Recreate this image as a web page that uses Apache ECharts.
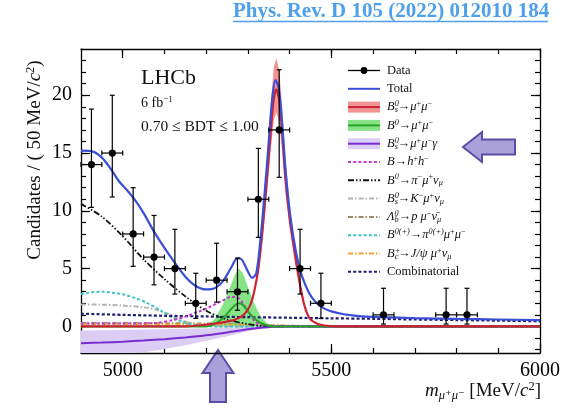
<!DOCTYPE html>
<html><head><meta charset="utf-8">
<script src="https://cdn.jsdelivr.net/npm/echarts@6/dist/echarts.min.js"></script>
<style>html,body{margin:0;padding:0;background:#fff}#c{width:571px;height:410px}</style>
</head><body><div id="c"></div>
<script>
// ---------------- data ----------------
const xMin = 4900, xMax = 6000, yMin = -2.3, yMax = 24;
const xMajorTicks = [5000, 5500, 6000];
const xMinorTicks = [5000, 5100, 5200, 5300, 5400, 5500, 5600, 5700, 5800, 5900];
const yMajorTicks = [0, 5, 10, 15, 20];
const yMinorTicks = [-2, -1, 0, 1, 2, 3, 4, 5, 6, 7, 8, 9, 10, 11, 12, 13, 14, 15, 16, 17, 18, 19, 20, 21, 22, 23];

const binHalfWidth = 25;
const dataX = [4925, 4975, 5025, 5075, 5125, 5175, 5225, 5275, 5325, 5375, 5425, 5475, 5625, 5775, 5825];
const dataY = [14, 15, 8, 6, 5, 2, 4, 3, 11, 17, 5, 2, 1, 1, 1];
const errLow = [3.7, 3.8, 2.8, 2.4, 2.2, 1.3, 1.9, 1.6, 3.3, 4.1, 2.2, 1.3, 0.8, 0.8, 0.8];
const errHigh = [4.8, 5.0, 4.0, 3.6, 3.4, 2.6, 3.2, 2.9, 4.4, 5.2, 3.4, 2.6, 2.3, 2.3, 2.3];

const total = [[4900,15.2],[4930,15.1],[4950,14.6],[4970,13.7],[4990,12.6],[5010,11.8],[5030,10.9],[5050,9.8],[5075,8.2],[5100,6.8],[5125,5.5],[5150,4.3],[5175,3.5],[5200,3.2],[5220,3.3],[5240,3.9],[5260,5.1],[5275,5.9],[5285,5.8],[5298,4.9],[5310,4.2],[5320,4.6],[5330,7.5],[5340,11.5],[5350,16.0],[5358,19.6],[5366,21.3],[5374,20.6],[5382,17.6],[5390,13.6],[5400,10.0],[5410,7.5],[5420,5.6],[5430,4.3],[5445,3.0],[5460,2.2],[5480,1.6],[5500,1.3],[5530,1.05],[5560,0.92],[5600,0.82],[5700,0.72],[5800,0.65],[5900,0.6],[6000,0.55]];
const bsMuMu = [[4900,0],[5150,0],[5200,0.15],[5240,0.35],[5270,0.6],[5290,1.0],[5305,1.8],[5315,3.0],[5325,5.0],[5335,8.3],[5345,12.5],[5355,17.0],[5362,19.7],[5368,20.5],[5375,19.6],[5382,16.8],[5390,12.8],[5400,9.4],[5410,6.9],[5418,5.0],[5426,3.4],[5434,2.0],[5442,1.1],[5450,0.6],[5465,0.25],[5480,0.1],[5500,0.03],[5550,0],[6000,0]];
const bsBandX = [5320, 5325, 5335, 5345, 5355, 5362, 5368, 5375, 5382, 5390, 5400, 5410, 5420, 5425];
const bsBandLo = [4.0, 4.5, 7.5, 11.3, 15.3, 17.8, 18.5, 17.7, 15.1, 11.5, 8.5, 6.2, 4.5, 3.6];
const bsBandHi = [4.0, 5.6, 9.5, 14.2, 19.3, 22.4, 23.2, 22.2, 19.0, 14.5, 10.6, 7.8, 5.6, 3.6];

const b0MuMu = [[4900,0],[5200,0],[5220,0.2],[5240,0.7],[5255,1.3],[5268,1.8],[5278,2.0],[5288,1.85],[5300,1.3],[5315,0.7],[5330,0.3],[5345,0.1],[5360,0],[6000,0]];
const b0BandX = [5200, 5220, 5240, 5255, 5268, 5278, 5288, 5300, 5315, 5330, 5345, 5360];
const b0BandLo = [0, 0, 0, 0, 0, 0, 0, 0, 0, 0, 0, 0];
const b0BandHi = [0.1, 0.6, 1.9, 3.2, 4.4, 5.0, 4.6, 3.4, 2.0, 0.9, 0.3, 0.05];

const bsMuMuGamma = [[4900,-1.45],[4950,-1.4],[5000,-1.32],[5050,-1.22],[5100,-1.1],[5150,-0.95],[5200,-0.77],[5250,-0.52],[5300,-0.25],[5330,-0.12],[5360,-0.03],[5400,0],[6000,0]];
const gamBandX = [4900, 4950, 5000, 5050, 5100, 5150, 5200, 5250, 5300, 5340, 5370, 5400];
const gamBandLo = [-2.8, -2.65, -2.5, -2.25, -1.95, -1.62, -1.25, -0.85, -0.42, -0.12, -0.02, 0];
const gamBandHi = [-0.35, -0.33, -0.3, -0.27, -0.24, -0.2, -0.15, -0.1, -0.05, -0.02, 0, 0];

const bhh = [[4900,0.25],[5000,0.25],[5080,0.3],[5120,0.55],[5150,0.85],[5180,1.25],[5210,1.7],[5240,2.25],[5260,2.55],[5275,2.5],[5290,1.9],[5305,1.0],[5320,0.35],[5340,0.1],[5360,0],[6000,0]];
const piMuNu = [[4900,10.6],[4950,9.5],[5000,7.8],[5050,5.8],[5100,4.1],[5150,2.6],[5200,1.35],[5250,0.6],[5300,0.2],[5330,0.05],[5350,0],[6000,0]];
const kMuNu = [[4900,1.9],[4950,1.88],[5000,1.8],[5050,1.65],[5080,1.45],[5110,1.05],[5140,0.55],[5170,0.2],[5200,0.05],[5250,0],[6000,0]];
const lambdaB = [[4900,0.3],[5000,0.3],[5100,0.28],[5200,0.25],[5300,0.15],[5400,0.05],[5500,0],[6000,0]];
const piMuMu = [[4900,2.8],[4925,2.95],[4950,3.0],[4975,2.92],[5000,2.78],[5030,2.45],[5060,2.0],[5090,1.4],[5120,0.75],[5150,0.3],[5180,0.1],[5220,0],[6000,0]];
const bcJpsi = [[4900,0.22],[5100,0.2],[5300,0.12],[5400,0.05],[5500,0],[6000,0]];
const combinatorial = [[4900,1.1],[5000,1.0],[5100,0.92],[5200,0.86],[5300,0.8],[5400,0.75],[5500,0.7],[5600,0.66],[5700,0.6],[5800,0.55],[5900,0.5],[6000,0.45]];

// ---------------- styling ----------------
const F = '"Liberation Serif", "DejaVu Serif", "Times New Roman", serif';
const C = {
  total: '#3a4fd6', red: '#cc2233', pink: '#f29494', green: '#27a327', lgreen: '#86e486',
  purple: '#7a2bd2', lpurple: '#dccdf5', magenta: '#c43ccc', black: '#111111', gray: '#b4b4b4',
  brown: '#9c8a68', cyan: '#3cc4c4', orange: '#f0a22e', navy: '#1c1c72'
};
const dashes = { dash: [3, 2.2], dd: [6, 2, 1.5, 2, 1.5, 2], dot: [5, 2, 1.5, 2] };

function lineS(data, color, width, type, z) {
  return { type: 'line', data, symbol: 'none', showSymbol: false, smooth: 0.3, clip: true,
    lineStyle: { color, width, type: type || 'solid' }, z: z || 3, silent: true, animation: false };
}
function bandS(xs, lo, hi, color, z) {
  return {
    type: 'custom', clip: true, z: z || 2, silent: true, animation: false,
    data: xs.map((x, i) => [x, lo[i], hi[i]]),
    renderItem: (params, api) => {
      if (params.dataIndex !== 0) return;
      const up = xs.map((x, i) => api.coord([x, Math.max(hi[i], yMin)]));
      const dn = xs.map((x, i) => api.coord([x, Math.max(lo[i], yMin)])).reverse();
      return { type: 'polygon', shape: { points: up.concat(dn) }, style: { fill: color } };
    }
  };
}
const plainNum = v => String(v);
function axisX(pos, ticks, len, showLine, labels) {
  return { type: 'value', min: xMin, max: xMax, position: pos, gridIndex: 0,
    axisLine: { show: showLine, onZero: false, lineStyle: { color: '#000', width: 1.3 } },
    axisTick: { show: true, inside: true, length: len, customValues: ticks, lineStyle: { color: '#000', width: 1.2 } },
    axisLabel: labels ? { show: true, customValues: ticks, formatter: plainNum, fontFamily: F, fontSize: 20, color: '#000', margin: 8 } : { show: false },
    splitLine: { show: false } };
}
function axisY(pos, ticks, len, showLine, labels) {
  return { type: 'value', min: yMin, max: yMax, position: pos, gridIndex: 0,
    axisLine: { show: showLine, onZero: false, lineStyle: { color: '#000', width: 1.3 } },
    axisTick: { show: true, inside: true, length: len, customValues: ticks, lineStyle: { color: '#000', width: 1.2 } },
    axisLabel: labels ? { show: true, customValues: ticks, formatter: plainNum, fontFamily: F, fontSize: 20, color: '#000', margin: 9 } : { show: false },
    splitLine: { show: false } };
}

const series = [
  bandS(gamBandX, gamBandLo, gamBandHi, C.lpurple, 1),
  bandS(b0BandX, b0BandLo, b0BandHi, C.lgreen, 1),
  bandS(bsBandX, bsBandLo, bsBandHi, C.pink, 1),
  lineS(lambdaB, C.brown, 2, dashes.dot),
  lineS(bcJpsi, C.orange, 2, dashes.dot),
  lineS(kMuNu, C.gray, 2, dashes.dot),
  lineS(piMuMu, C.cyan, 2, dashes.dash),
  lineS(combinatorial, C.navy, 2.2, dashes.dash),
  lineS(bhh, C.magenta, 2, dashes.dash),
  lineS(piMuNu, C.black, 1.8, dashes.dd),
  lineS(bsMuMuGamma, C.purple, 2, 'solid', 4),
  lineS(b0MuMu, C.green, 2, 'solid', 4),
  lineS(bsMuMu, C.red, 2.2, 'solid', 4),
  lineS(total, C.total, 2.2, 'solid', 5),
  {
    type: 'custom', z: 6, silent: true, animation: false,
    data: dataX.map((x, i) => [x, dataY[i], errLow[i], errHigh[i]]),
    renderItem: (params, api) => {
      const x = api.value(0), y = api.value(1), lo = api.value(2), hi = api.value(3);
      const c = api.coord([x, y]), t = api.coord([x, y + hi]), b = api.coord([x, y - lo]);
      const l = api.coord([x - binHalfWidth, y]), r = api.coord([x + binHalfWidth, y]);
      const st = { stroke: '#000', lineWidth: 1.2 };
      return { type: 'group', children: [
        { type: 'line', shape: { x1: c[0], y1: t[1], x2: c[0], y2: b[1] }, style: st },
        { type: 'line', shape: { x1: l[0], y1: c[1], x2: r[0], y2: c[1] }, style: st },
        { type: 'line', shape: { x1: c[0] - 2.5, y1: t[1], x2: c[0] + 2.5, y2: t[1] }, style: st },
        { type: 'line', shape: { x1: c[0] - 2.5, y1: b[1], x2: c[0] + 2.5, y2: b[1] }, style: st },
        { type: 'line', shape: { x1: l[0], y1: c[1] - 2.5, x2: l[0], y2: c[1] + 2.5 }, style: st },
        { type: 'line', shape: { x1: r[0], y1: c[1] - 2.5, x2: r[0], y2: c[1] + 2.5 }, style: st },
        { type: 'circle', shape: { cx: c[0], cy: c[1], r: 3.6 }, style: { fill: '#000' } }
      ] };
    }
  }
];

// ---------------- text / legend ----------------
function rich(size) {
  const s = size * 0.66, lh = Math.round(size * 1.15);
  const base = { fontFamily: F, fill: '#111' };
  return {
    r: { ...base, fontSize: size, lineHeight: lh },
    i: { ...base, fontSize: size, fontStyle: 'italic', lineHeight: lh },
    sup: { ...base, fontSize: s, lineHeight: s, verticalAlign: 'top' },
    isup: { ...base, fontSize: s, fontStyle: 'italic', lineHeight: s, verticalAlign: 'top' },
    isup0: { ...base, fontSize: s, fontStyle: 'italic', lineHeight: s, verticalAlign: 'top', width: 0 },
    sub: { ...base, fontSize: s, lineHeight: s, verticalAlign: 'bottom' },
    isub: { ...base, fontSize: s, fontStyle: 'italic', lineHeight: s, verticalAlign: 'bottom' }
  };
}
const legendItems = [
  { kind: 'data', label: '{r|Data}' },
  { kind: 'line', color: C.total, label: '{r|Total}' },
  { kind: 'band', color: C.red, fill: C.pink, label: '{i|B}{isup0|0}{isub|s}{r|→}{i|μ}{sup|+}{i|μ}{sup|−}' },
  { kind: 'band', color: C.green, fill: C.lgreen, label: '{i|B}{isup|0}{r|→}{i|μ}{sup|+}{i|μ}{sup|−}' },
  { kind: 'band', color: C.purple, fill: C.lpurple, label: '{i|B}{isup0|0}{isub|s}{r|→}{i|μ}{sup|+}{i|μ}{sup|−}{i|γ}' },
  { kind: 'line', color: C.magenta, dash: dashes.dash, label: '{i|B}{r|→}{i|h}{sup|+}{i|h}{sup|−}' },
  { kind: 'line', color: C.black, dash: dashes.dd, label: '{i|B}{isup|0}{r|→}{i|π}{sup|−}{i|μ}{sup|+}{i|ν}{isub|μ}' },
  { kind: 'line', color: C.gray, dash: dashes.dot, label: '{i|B}{isup0|0}{isub|s}{r|→}{i|K}{sup|−}{i|μ}{sup|+}{i|ν}{isub|μ}' },
  { kind: 'line', color: C.brown, dash: dashes.dot, label: '{i|Λ}{isup0|0}{isub|b}{r|→}{i|p μ}{sup|−}{i|ν̄}{isub|μ}' },
  { kind: 'line', color: C.cyan, dash: dashes.dash, label: '{i|B}{isup|0(+)}{r|→}{i|π}{isup|0(+)}{i|μ}{sup|+}{i|μ}{sup|−}' },
  { kind: 'line', color: C.orange, dash: dashes.dot, label: '{i|B}{isup0|+}{isub|c}{r|→}{i|J/ψ μ}{sup|+}{i|ν}{isub|μ}' },
  { kind: 'line', color: C.navy, dash: dashes.dash, label: '{r|Combinatorial}' }
];
const graphics = [];
const lx0 = 348, lx1 = 380, ltx = 387, ly0 = 70.5, ldy = 18.3;
legendItems.forEach((it, k) => {
  const y = ly0 + k * ldy;
  if (it.kind === 'band') graphics.push({ type: 'rect', shape: { x: lx0, y: y - 5.5, width: lx1 - lx0, height: 11 }, style: { fill: it.fill } });
  const col = it.kind === 'data' ? '#000' : it.color;
  graphics.push({ type: 'line', shape: { x1: lx0, y1: y, x2: lx1, y2: y }, style: { stroke: col, lineWidth: it.kind === 'data' ? 1.3 : 2, lineDash: it.dash || null } });
  if (it.kind === 'data') graphics.push({ type: 'circle', shape: { cx: (lx0 + lx1) / 2, cy: y, r: 3.4 }, style: { fill: '#000' } });
  graphics.push({ type: 'text', x: ltx, y: y, style: { text: it.label, rich: rich(12.5), verticalAlign: 'middle', align: 'left' } });
});

// annotations
graphics.push(
  { type: 'text', x: 233, y: 1, style: { text: 'Phys. Rev. D 105 (2022) 012010 184', fontFamily: F, fontWeight: 'bold', fontSize: 21, fill: '#4ea0ea', align: 'left', verticalAlign: 'top' } },
  { type: 'line', shape: { x1: 233, y1: 21.5, x2: 548, y2: 21.5 }, style: { stroke: '#4ea0ea', lineWidth: 1.6 } },
  { type: 'text', x: 141, y: 78, style: { text: 'LHCb', fontFamily: F, fontSize: 22, fill: '#111', verticalAlign: 'middle' } },
  { type: 'text', x: 141, y: 103, style: { text: '{r|6 fb}{sup|−1}', rich: rich(14), verticalAlign: 'middle' } },
  { type: 'text', x: 141, y: 127, style: { text: '0.70 ≤ BDT ≤ 1.00', fontFamily: F, fontSize: 15.5, fill: '#111', verticalAlign: 'middle' } },
  { type: 'text', x: 541, y: 391, style: { text: '{i|m}{isub|μ⁺μ⁻}{r| [MeV/}{i|c}{sup|2}{r|]}', rich: rich(19), align: 'right', verticalAlign: 'middle' } },
  { type: 'text', x: 35, y: 160, rotation: Math.PI / 2, style: { text: '{r|Candidates / ( 50 MeV/}{i|c}{sup|2}{r|)}', rich: rich(19), align: 'center', verticalAlign: 'middle' } },
  // arrows
  { type: 'polygon', shape: { points: [[463, 147], [482, 132], [482, 139.5], [515, 139.5], [515, 154.5], [482, 154.5], [482, 162]] }, style: { fill: '#aaa0da', stroke: '#5d4ba6', lineWidth: 2 } },
  { type: 'polygon', shape: { points: [[218, 350], [233.5, 373], [226, 373], [226, 402], [210, 402], [210, 373], [202.5, 373]] }, style: { fill: '#aaa0da', stroke: '#5d4ba6', lineWidth: 2 } }
);

const chart = echarts.init(document.getElementById('c'), null, { renderer: 'canvas' });
chart.setOption({
  animation: false,
  backgroundColor: '#fff',
  grid: { left: 81, right: 31, top: 49, bottom: 57, containLabel: false },
  xAxis: [
    axisX('bottom', xMajorTicks, 9, true, true),
    axisX('bottom', xMinorTicks, 5, false, false),
    axisX('top', xMajorTicks, 9, true, false),
    axisX('top', xMinorTicks, 5, false, false)
  ],
  yAxis: [
    axisY('left', yMajorTicks, 9, true, true),
    axisY('left', yMinorTicks, 5, false, false),
    axisY('right', yMajorTicks, 9, true, false),
    axisY('right', yMinorTicks, 5, false, false)
  ],
  series,
  graphic: graphics
});
</script></body></html>
